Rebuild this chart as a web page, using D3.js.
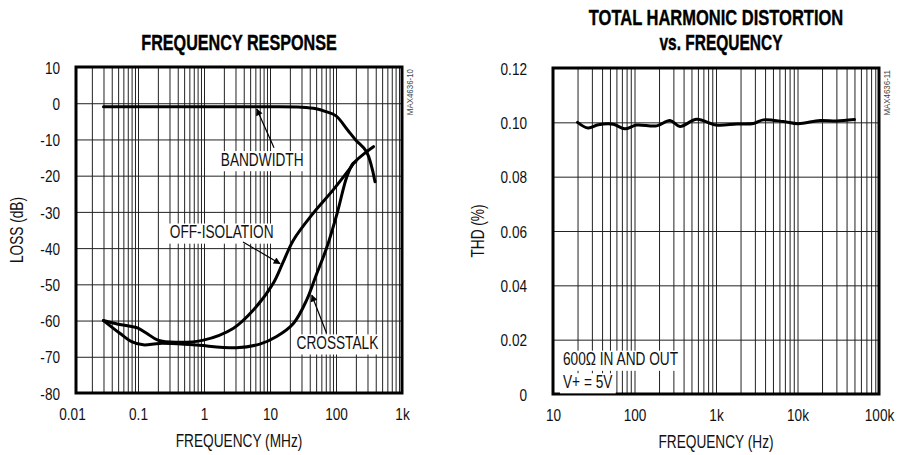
<!DOCTYPE html>
<html>
<head>
<meta charset="utf-8">
<script src="https://cdn.jsdelivr.net/npm/d3@7"></script>
<style>
  html, body { margin: 0; padding: 0; background: #fff; }
  svg { display: block; }
  text { font-family: "Liberation Sans", Arial, sans-serif; fill: #111; }
  .title { font-weight: bold; font-size: 22px; fill: #000; stroke: #000; stroke-width: 0.4px; }
  .tick text { font-size: 17px; fill: #111; }
  .axis-title { font-size: 18px; }
  .note { font-size: 18px; }
  .mark { font-size: 9px; fill: #444; }
  .grid line { stroke: #222; stroke-width: 1; }
  .grid path { display: none; }
  .lbl path, .lbl line { display: none; }
</style>
</head>
<body>
<svg id="chart" width="900" height="455"></svg>
<script>
// ---------------- DATA ----------------
// Left chart: Frequency response
const frTickValues = [0.01, 0.1, 1, 10, 100, 1000];
const frTickLabels = ["0.01", "0.1", "1", "10", "100", "1k"];
const lossTicks = [10, 0, -10, -20, -30, -40, -50, -60, -70, -80];

const bandwidthFreq = [0.03, 1, 10, 30, 50, 70, 100, 150, 200, 290, 390];
const bandwidthLoss = [-1, -1, -1, -1.1, -1.5, -2.3, -3.5, -7.4, -10.2, -13.4, -21.7];

const offIsoFreq = [0.03, 0.05, 0.083, 0.1, 0.135, 0.2, 0.38, 0.98, 2.8, 5.6, 11.2, 15.5, 22.6, 45, 90, 163, 195, 290, 370];
const offIsoLoss = [-60, -61, -61.7, -62.1, -63.5, -65.4, -66, -65.4, -62.1, -57.1, -49.7, -44.2, -37.8, -30.4, -24, -18, -16.1, -13.4, -12];

const crosstalkFreq = [0.03, 0.053, 0.08, 0.12, 0.215, 0.68, 3.1, 7, 12.6, 22.6, 36, 50, 72, 104, 146, 182, 200];
const crosstalkLoss = [-60, -63.5, -65.8, -66.7, -66.3, -66.7, -67.5, -66.5, -64.4, -60.8, -54.3, -47.5, -40, -30.4, -20.3, -16.6, -16.2];

// Right chart: THD vs frequency
const thdTickValues = [10, 100, 1000, 10000, 100000];
const thdTickLabels = ["10", "100", "1k", "10k", "100k"];
const thdYTicks = [0, 0.02, 0.04, 0.06, 0.08, 0.10, 0.12];
const thdYLabels = ["0", "0.02", "0.04", "0.06", "0.08", "0.10", "0.12"];

const thdFreq = [20, 27, 36, 55, 76, 106, 187, 273, 361, 580, 1000, 1800, 2900, 3800, 6700, 10200, 18900, 30000, 50000];
const thdValue = [0.1000, 0.0979, 0.0991, 0.0993, 0.0976, 0.0990, 0.0987, 0.1007, 0.0985, 0.1011, 0.0990, 0.0994, 0.0996, 0.1009, 0.1003, 0.0995, 0.1007, 0.1005, 0.1010];

// ---------------- DRAW ----------------
const svg = d3.select("#chart");
const SQ_TICK = 0.8, SQ_TEXT = 0.76, SQ_TITLE = 0.735;

function logGrid(domain) {
  const out = [];
  for (let d = domain[0]; d < domain[1] * 0.999; d *= 10) {
    for (let k = 1; k <= 9; k++) out.push(d * k);
  }
  out.push(domain[1]);
  return out;
}

// condensed text placed at (x,y), horizontally squeezed
function ctext(parent, cls, x, y, txt, anchor, sq, rot) {
  const g = parent.append("g")
    .attr("transform", `translate(${x},${y})${rot ? " rotate(" + rot + ")" : ""} scale(${sq},1)`);
  const t = g.append("text").attr("class", cls).attr("text-anchor", anchor || "middle").text(txt);
  return { g, t };
}

function panel(cfg) {
  const g = svg.append("g");
  const x = d3.scaleLog().domain(cfg.xDomain).range(cfg.xRange);
  const y = d3.scaleLinear().domain(cfg.yDomain).range(cfg.yRange);
  const top = cfg.yRange[1], bottom = cfg.yRange[0];
  const left = cfg.frameLeft, right = cfg.xRange[1];

  // vertical grid
  g.append("g").attr("class", "grid")
    .attr("transform", `translate(0,${bottom})`)
    .call(d3.axisBottom(x).tickValues(logGrid(cfg.xDomain).filter(v => x(v) > left + 1 && x(v) < right - 1))
      .tickSize(-(bottom - top)).tickFormat(""));
  // horizontal grid
  g.append("g").attr("class", "grid")
    .attr("transform", `translate(${left},0)`)
    .call(d3.axisLeft(y).tickValues(cfg.yTicks).tickSize(-(right - left)).tickFormat(""));

  // tick labels
  g.append("g").attr("class", "lbl")
    .attr("transform", `translate(0,${bottom + 27})`)
    .call(d3.axisBottom(x).tickValues(cfg.xTicks).tickSize(0)
      .tickFormat((d, i) => cfg.xLabels[i]))
    .selectAll("text").attr("dy", 0).attr("y", 0).attr("x", 0)
    .attr("transform", `scale(${SQ_TICK},1)`);
  g.append("g").attr("class", "lbl")
    .attr("transform", `translate(${left - cfg.yLabelGap},0)`)
    .call(d3.axisLeft(y).tickValues(cfg.yTicks).tickSize(0)
      .tickFormat((d, i) => cfg.yLabels[i]))
    .selectAll("text").attr("x", 0).attr("dy", "0.36em")
    .attr("transform", `scale(${SQ_TICK},1)`);

  // frame
  g.append("rect").attr("x", left).attr("y", top)
    .attr("width", right - left).attr("height", bottom - top)
    .attr("fill", "none").attr("stroke", "#000").attr("stroke-width", 3);

  // axis titles
  ctext(g, "axis-title", (left + right) / 2, bottom + 54, cfg.xTitle, "middle", SQ_TEXT);
  ctext(g, "axis-title", cfg.yTitleX, (top + bottom) / 2, cfg.yTitle, "middle", SQ_TEXT, -90)
    .t.attr("dy", "0.35em");

  // watermark
  ctext(g, "mark", right + 8, top + 2, cfg.mark, "end", 0.88, -90).t.attr("dy", "0.35em");

  return { g, x, y, top, bottom, left, right };
}

function note(g, txt, cx, cy, anchor) {
  const c = ctext(g, "note", cx, cy, txt, anchor || "middle", SQ_TEXT);
  c.t.attr("dy", "0.36em");
  const b = c.t.node().getBBox();
  c.g.insert("rect", "text")
    .attr("x", b.x - 4).attr("y", b.y + 1).attr("width", b.width + 8).attr("height", b.height + 1)
    .attr("fill", "#fff");
  return c;
}

function arrow(g, x1, y1, x2, y2) {
  g.append("line").attr("x1", x1).attr("y1", y1).attr("x2", x2).attr("y2", y2)
    .attr("stroke", "#000").attr("stroke-width", 1.2).attr("marker-end", "url(#ah)");
}

svg.append("defs").append("marker").attr("id", "ah")
  .attr("viewBox", "0 0 10 10").attr("refX", 9).attr("refY", 5)
  .attr("markerWidth", 12).attr("markerHeight", 7).attr("markerUnits", "userSpaceOnUse")
  .attr("orient", "auto")
  .append("path").attr("d", "M0,0 L10,5 L0,10 Z").attr("fill", "#000");

// ----- left panel -----
const L = panel({
  xDomain: [0.01, 1000], xRange: [72, 402], frameLeft: 76,
  yDomain: [-80, 10], yRange: [393, 67],
  xTicks: frTickValues, xLabels: frTickLabels,
  yTicks: lossTicks, yLabels: lossTicks.map(String), yLabelGap: 16,
  xTitle: "FREQUENCY (MHz)", yTitle: "LOSS (dB)", yTitleX: 17,
  mark: "MAX4636-10"
});
ctext(L.g, "title", 239, 50, "FREQUENCY RESPONSE", "middle", SQ_TITLE);

const lineL = d3.line().curve(d3.curveCatmullRom.alpha(0.5))
  .x(d => L.x(d[0])).y(d => L.y(d[1]));
function drawL(fx, fy) {
  L.g.append("path").datum(d3.zip(fx, fy)).attr("d", lineL)
    .attr("fill", "none").attr("stroke", "#000").attr("stroke-width", 3)
    .attr("stroke-linejoin", "round").attr("stroke-linecap", "round");
}

note(L.g, "BANDWIDTH", L.x(7.6), L.y(-15.5));
note(L.g, "OFF-ISOLATION", L.x(1.85), L.y(-35.5));
note(L.g, "CROSSTALK", L.x(105), L.y(-66.1));

drawL(bandwidthFreq, bandwidthLoss);
drawL(offIsoFreq, offIsoLoss);
drawL(crosstalkFreq, crosstalkLoss);

arrow(L.g, L.x(11.5), L.y(-12.3), L.x(6.3), L.y(-1.6));
arrow(L.g, L.x(3.9), L.y(-38.3), L.x(14.2), L.y(-44.3));
arrow(L.g, L.x(72), L.y(-63.5), L.x(43), L.y(-53));

// ----- right panel -----
const R = panel({
  xDomain: [10, 100000], xRange: [553, 879], frameLeft: 553,
  yDomain: [0, 0.12], yRange: [394, 68],
  xTicks: thdTickValues, xLabels: thdTickLabels,
  yTicks: thdYTicks, yLabels: thdYLabels, yLabelGap: 26,
  xTitle: "FREQUENCY (Hz)", yTitle: "THD (%)", yTitleX: 478,
  mark: "MAX4636-11"
});
ctext(R.g, "title", 716, 25, "TOTAL HARMONIC DISTORTION", "middle", SQ_TITLE + 0.015);
ctext(R.g, "title", 721, 50, "vs. FREQUENCY", "middle", SQ_TITLE - 0.03);

const lineR = d3.line().curve(d3.curveCatmullRom.alpha(0.5))
  .x(d => R.x(d[0])).y(d => R.y(d[1]));
R.g.append("path").datum(d3.zip(thdFreq, thdValue)).attr("d", lineR)
  .attr("fill", "none").attr("stroke", "#000").attr("stroke-width", 3)
  .attr("stroke-linejoin", "round").attr("stroke-linecap", "round");

note(R.g, "600\u03A9 IN AND OUT", R.left + 10, R.y(0.0129), "start");
note(R.g, "V+ = 5V", R.left + 10, R.y(0.0046), "start");
</script>
</body>
</html>
